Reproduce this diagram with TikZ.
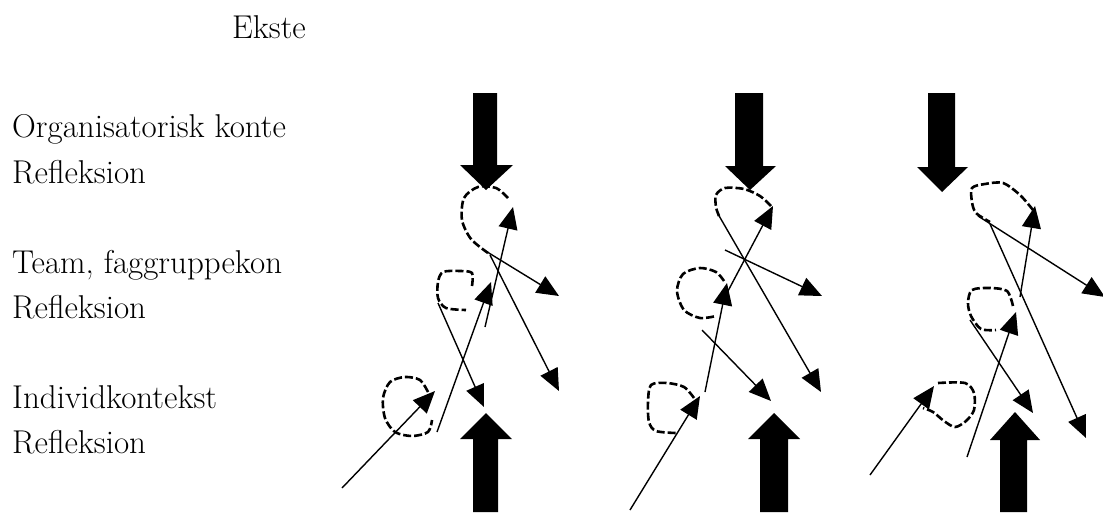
\documentclass[tikz,border=0pt]{standalone}
\usetikzlibrary{arrows.meta}
\begin{document}
\begin{tikzpicture}[x=1pt,y=-1pt,
  lbl/.style={anchor=base west, inner sep=0pt, font=\fontsize{33}{40}\selectfont},
  flow/.style={line width=1.4pt, -{Triangle[length=22pt,width=19pt]}},
  loopline/.style={line width=2.6pt, dash pattern=on 8pt off 3pt, line cap=butt},
  block/.style={fill=black}
]
\useasboundingbox (0,0) rectangle (1103,512);

% ---- level labels ----
\node[lbl] (ext)  at (232,38)  {Ekste};
\node[lbl] (org)  at (12,137)  {Organisatorisk konte};
\node[lbl] (orgr) at (12,183)  {Refleksion};
\node[lbl] (team) at (12,273)  {Team, faggruppekon};
\node[lbl] (teamr) at (12,318) {Refleksion};
\node[lbl] (ind)  at (12,408)  {Individkontekst};
\node[lbl] (indr) at (12,453)  {Refleksion};

% ---- block arrows: pressure from above and from below ----
\fill[block] (473,93) -- (497,93) -- (497,165) -- (513,165) -- (486,190) -- (460,165) -- (473,165) -- cycle;
\fill[block] (473,512) -- (473,439) -- (460,439) -- (486,413) -- (512,439) -- (498,439) -- (498,512) -- cycle;

\fill[block] (735,93) -- (763,93) -- (763,166) -- (776,166) -- (750,190) -- (725,166) -- (735,166) -- cycle;
\fill[block] (760,512) -- (760,439) -- (748,439) -- (774,413) -- (800,439) -- (788,439) -- (788,512) -- cycle;

\fill[block] (928,93) -- (955,93) -- (955,167) -- (968,167) -- (942,192) -- (917,167) -- (928,167) -- cycle;
\fill[block] (1000,512) -- (1000,440) -- (990,440) -- (1015,412) -- (1040,440) -- (1027,440) -- (1027,512) -- cycle;

% ================= first column =================
\coordinate (a1s) at (342,488);  \coordinate (a1e) at (435,391);
\coordinate (a2s) at (437,432);  \coordinate (a2e) at (491,282);
\coordinate (a3s) at (438,303);  \coordinate (a3e) at (484,407);
\coordinate (a4s) at (485,327);  \coordinate (a4e) at (513,207);
\coordinate (a5s) at (484,250);  \coordinate (a5e) at (559,296);
\coordinate (a6s) at (490,255);  \coordinate (a6e) at (559,391);

% reflection loops
\draw[loopline] plot[smooth] coordinates {(508,198) (496,188) (478,187) (464,198) (462,220) (471,239) (488,253)};
\draw[loopline] plot[smooth] coordinates {(472,286) (472,273) (460,271) (443,272) (438,282) (438,298) (446,308) (466,310)};
\draw[loopline] plot[smooth] coordinates {(428,392) (420,380) (405,377) (390,382) (383,398) (385,418) (395,432) (412,436) (428,432) (432,420)};

% connectors
\draw[flow] (a1s) -- (a1e);
\draw[flow] (a2s) -- (a2e);
\draw[flow] (a3s) -- (a3e);
\draw[flow] (a4s) -- (a4e);
\draw[flow] (a5s) -- (a5e);
\draw[flow] (a6s) -- (a6e);

% ================= second column =================
\coordinate (b1s) at (630,510);  \coordinate (b1e) at (700,396);
\coordinate (b2s) at (705,392);  \coordinate (b2e) at (727,283);
\coordinate (b3s) at (702,330);  \coordinate (b3e) at (771,401);
\coordinate (b4s) at (728,291);  \coordinate (b4e) at (773,206);
\coordinate (b5s) at (725,250);  \coordinate (b5e) at (822,296);
\coordinate (b6s) at (718,214);  \coordinate (b6e) at (821,392);

\draw[loopline] plot[smooth] coordinates {(771,206) (760,196) (744,189) (725,188) (716,195) (716,207) (719,216)};
\draw[loopline] plot[smooth] coordinates {(724,281) (716,272) (700,268) (683,274) (677,291) (684,310) (700,318) (716,316)};
\draw[loopline] plot[smooth] coordinates {(694,398) (684,387) (667,383) (651,385) (648,402) (649,422) (656,431) (676,433)};

\draw[flow] (b1s) -- (b1e);
\draw[flow] (b2s) -- (b2e);
\draw[flow] (b3s) -- (b3e);
\draw[flow] (b4s) -- (b4e);
\draw[flow] (b5s) -- (b5e);
\draw[flow] (b6s) -- (b6e);

% ================= third column =================
\coordinate (c1s) at (870,475);  \coordinate (c1e) at (934,386);
\coordinate (c2s) at (967,457);  \coordinate (c2e) at (1016,312);
\coordinate (c3s) at (970,320);  \coordinate (c3e) at (1033,413);
\coordinate (c4s) at (1020,297); \coordinate (c4e) at (1035,206);
\coordinate (c5s) at (978,216);  \coordinate (c5e) at (1105,297);
\coordinate (c6s) at (990,224);  \coordinate (c6e) at (1086,438);

\draw[loopline] plot[smooth] coordinates {(1033,210) (1020,195) (1003,183) (985,184) (972,188) (972,202) (976,213) (990,222)};
\draw[loopline] plot[smooth] coordinates {(1013,306) (1007,291) (990,288) (972,290) (968,303) (971,316) (981,329) (996,330)};
\draw[loopline] plot[smooth] coordinates {(938,383) (965,383) (974,393) (974,410) (966,421) (955,427) (944,421) (933,412) (923,408)};

\draw[flow] (c1s) -- (c1e);
\draw[flow] (c2s) -- (c2e);
\draw[flow] (c3s) -- (c3e);
\draw[flow] (c4s) -- (c4e);
\draw[flow] (c5s) -- (c5e);
\draw[flow] (c6s) -- (c6e);
\end{tikzpicture}
\end{document}
